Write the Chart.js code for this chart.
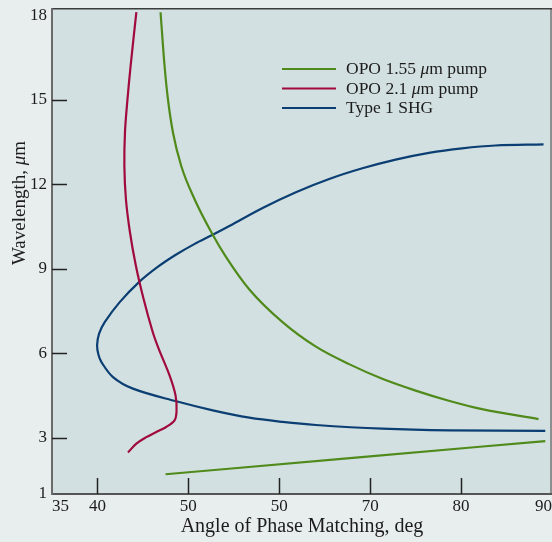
<!DOCTYPE html>
<html><head><meta charset="utf-8">
<script src="https://cdn.jsdelivr.net/npm/chart.js@4.4.1/dist/chart.umd.min.js"></script>
<style>html,body{margin:0;padding:0;background:#e8eeee;}canvas{display:block;}</style>
</head><body>
<canvas id="c" width="552" height="542"></canvas>
<script>
// ---- data ----
const xTickValues = [35, 40, 50, 60, 70, 80, 90];
const xTickLabels = ["35", "40", "50", "50", "70", "80", "90"];
const yTickValues = [1, 3, 6, 9, 12, 15, 18];
const seriesNames = ["OPO 1.55 μm pump", "OPO 2.1 μm pump", "Type 1 SHG"];

const opo155UpperAngle = [46.94, 47.38, 47.75, 48.3, 49.2, 50.67, 52.68, 54.15, 56.71, 60.36, 64.03, 67.68, 71.33, 75.0, 78.65, 82.3, 88.52];
const opo155UpperWl    = [18.1, 16.2, 15.02, 13.84, 12.66, 11.47, 10.2, 9.41, 8.26, 7.1, 6.23, 5.61, 5.09, 4.67, 4.31, 4.01, 3.66];
const opo155LowerAngle = [47.49, 68.4, 89.26];
const opo155LowerWl    = [1.70, 2.29, 2.88];

const opo21Angle = [44.28, 43.65, 43.30, 43.03, 42.96, 43.13, 43.57, 44.21, 45.07, 46.07, 46.73, 47.93, 48.59, 48.7, 48.48, 47.57, 46.47, 45.38, 44.28, 43.36];
const opo21Wl    = [18.1, 16.2, 15.0, 13.85, 12.66, 11.47, 10.30, 9.13, 7.93, 6.76, 6.16, 5.21, 4.5, 3.95, 3.61, 3.38, 3.2, 3.02, 2.79, 2.47];

const shgAngle = [89.26, 78.65, 71.33, 64.03, 60.36, 56.71, 52.68, 48.67, 43.9, 41.71, 40.44, 40.11, 39.96, 40.18, 40.8, 42.45, 44.57, 46.59, 48.62, 50.65, 52.68, 54.51, 58.17, 61.83, 65.49, 69.14, 72.8, 76.46, 80.11, 83.77, 89.07];
const shgWl    = [3.24, 3.26, 3.32, 3.45, 3.56, 3.71, 3.97, 4.29, 4.74, 5.15, 5.68, 5.94, 6.28, 6.69, 7.1, 7.81, 8.52, 9.05, 9.49, 9.87, 10.2, 10.51, 11.15, 11.71, 12.18, 12.56, 12.87, 13.11, 13.27, 13.37, 13.41];

// ---- styles ----
const FONT = "'Liberation Serif', 'Times New Roman', serif";
const GREEN = '#4f8a1b', RED = '#a10a3d', BLUE = '#0b3e72';
const TEXT = '#1c1c1c';
const PLOT_BG = '#d3e0e1';

const pairs = (xs, ys) => xs.map((x, i) => ({ x: x, y: ys[i] }));
const lineDs = (label, data, color, mono) => ({
  label, data, borderColor: color, backgroundColor: color, borderWidth: 2.2,
  showLine: true, pointRadius: 0, tension: 0.35, fill: false,
  cubicInterpolationMode: mono ? 'monotone' : 'default'
});

const legendItems = [
  { name: seriesNames[0], color: GREEN },
  { name: seriesNames[1], color: RED },
  { name: seriesNames[2], color: BLUE }
];

function drawMixed(ctx, text, x, y, size) {
  const parts = text.split('μ');
  const reg = size + "px " + FONT, ita = "italic " + size + "px " + FONT;
  let cx = x;
  parts.forEach((p, i) => {
    if (i > 0) { ctx.font = ita; ctx.fillText('μ', cx, y); cx += ctx.measureText('μ').width; }
    ctx.font = reg; ctx.fillText(p, cx, y); cx += ctx.measureText(p).width;
  });
  return cx - x;
}
function measureMixed(ctx, text, size) {
  const parts = text.split('μ');
  let w = 0;
  parts.forEach((p, i) => {
    if (i > 0) { ctx.font = "italic " + size + "px " + FONT; w += ctx.measureText('μ').width; }
    ctx.font = size + "px " + FONT; w += ctx.measureText(p).width;
  });
  return w;
}

const decor = {
  id: 'decor',
  beforeDraw(chart) {
    const { ctx, chartArea: a } = chart;
    ctx.save();
    ctx.fillStyle = PLOT_BG;
    ctx.fillRect(a.left, a.top, a.right - a.left, a.bottom - a.top);
    ctx.restore();
  },
  afterDraw(chart) {
    const { ctx, chartArea: a, scales } = chart;
    ctx.save();
    // frame
    ctx.lineWidth = 2;
    ctx.strokeStyle = '#8c8f90';
    ctx.beginPath(); ctx.moveTo(a.right - 1, a.top); ctx.lineTo(a.right - 1, a.bottom); ctx.stroke();
    ctx.strokeStyle = '#3c3c3c';
    ctx.lineWidth = 1.5;
    ctx.beginPath(); ctx.moveTo(a.left, a.top + 0.75); ctx.lineTo(a.right, a.top + 0.75); ctx.stroke();
    ctx.lineWidth = 2;
    ctx.strokeStyle = '#555';
    ctx.beginPath(); ctx.moveTo(a.left - 1, a.bottom); ctx.lineTo(a.right, a.bottom); ctx.stroke();
    ctx.strokeStyle = '#6a6a6a';
    ctx.beginPath(); ctx.moveTo(a.left, a.top); ctx.lineTo(a.left, a.bottom + 1); ctx.stroke();
    // inward tick marks
    ctx.strokeStyle = '#222';
    ctx.lineWidth = 1.5;
    xTickValues.slice(1, -1).forEach(v => {
      const px = Math.round(scales.x.getPixelForValue(v)) + 0.5;
      ctx.beginPath(); ctx.moveTo(px, a.bottom); ctx.lineTo(px, a.bottom - 16); ctx.stroke();
    });
    yTickValues.slice(1, -1).forEach(v => {
      const py = Math.round(scales.y.getPixelForValue(v)) + 0.5;
      ctx.beginPath(); ctx.moveTo(a.left, py); ctx.lineTo(a.left + 15, py); ctx.stroke();
    });
    // legend
    ctx.fillStyle = TEXT;
    ctx.textBaseline = 'middle';
    ctx.textAlign = 'left';
    legendItems.forEach((it, i) => {
      const y = 69 + i * 19.5;
      ctx.strokeStyle = it.color; ctx.lineWidth = 2;
      ctx.beginPath(); ctx.moveTo(282, y); ctx.lineTo(336, y); ctx.stroke();
      drawMixed(ctx, it.name, 346, y + 0.5, 17.5);
    });
    // y-axis title
    const ttl = "Wavelength, μm";
    ctx.translate(25, 203);
    ctx.rotate(-Math.PI / 2);
    ctx.textBaseline = 'alphabetic';
    const w = measureMixed(ctx, ttl, 19);
    drawMixed(ctx, ttl, -w / 2, 0, 19);
    ctx.restore();
  }
};

new Chart(document.getElementById('c'), {
  type: 'scatter',
  data: {
    datasets: [
      lineDs(seriesNames[0], pairs(opo155UpperAngle, opo155UpperWl), GREEN, true),
      lineDs(seriesNames[0] + ' (lower)', pairs(opo155LowerAngle, opo155LowerWl), GREEN, true),
      lineDs(seriesNames[1], pairs(opo21Angle, opo21Wl), RED, false),
      lineDs(seriesNames[2], pairs(shgAngle, shgWl), BLUE, false)
    ]
  },
  options: {
    responsive: false,
    animation: false,
    layout: { padding: { top: 8, right: 0, left: 0, bottom: 0 } },
    plugins: { legend: { display: false }, tooltip: { enabled: false } },
    scales: {
      x: {
        type: 'linear', min: 35, max: 90,
        afterBuildTicks: s => { s.ticks = xTickValues.map(v => ({ value: v })); },
        afterFit: s => { s.height = 48; s.paddingLeft = 0; s.paddingRight = 0; },
        grid: { display: false, drawTicks: false },
        border: { display: false },
        ticks: {
          callback: (v, i) => xTickLabels[i],
          align: 'inner', autoSkip: false, maxRotation: 0,
          padding: 2, color: TEXT, font: { family: FONT, size: 17 }
        },
        title: {
          display: true, text: 'Angle of Phase Matching, deg', color: TEXT,
          font: { family: FONT, size: 20 }, padding: { top: 0, bottom: 3 }
        }
      },
      y: {
        type: 'linear', min: 1, max: 18.25,
        afterBuildTicks: s => { s.ticks = yTickValues.map(v => ({ value: v })); },
        afterFit: s => { s.width = 52; s.paddingTop = 0; s.paddingBottom = 0; },
        grid: { display: false, drawTicks: false },
        border: { display: false },
        ticks: {
          autoSkip: false, padding: 5, color: TEXT,
          font: { family: FONT, size: 17 }
        },
        title: { display: false }
      }
    }
  },
  plugins: [decor]
});
</script>
</body></html>
